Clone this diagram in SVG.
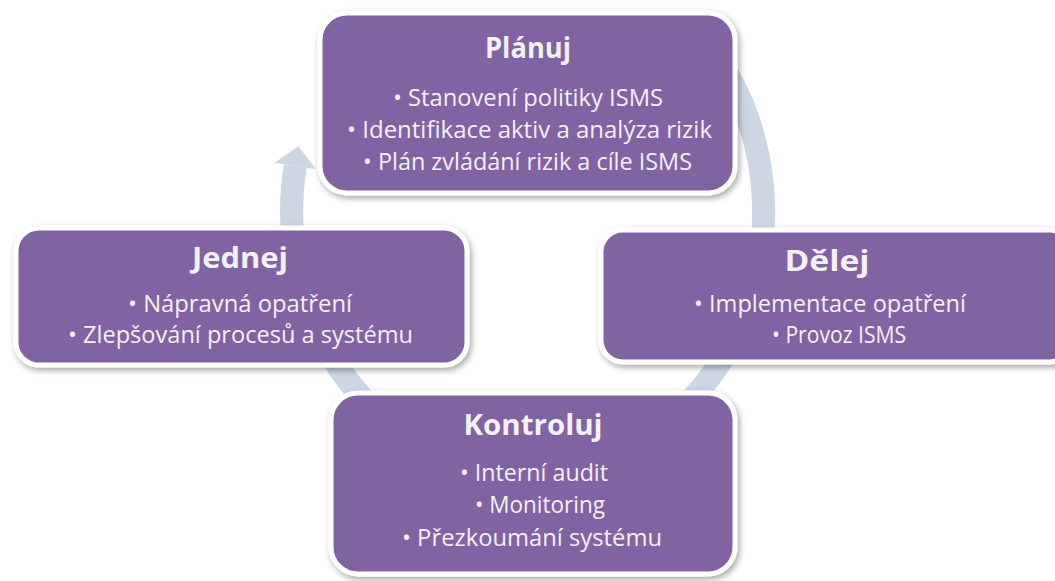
<svg xmlns="http://www.w3.org/2000/svg" width="1055" height="581" viewBox="0 0 1055 581">
  <style>
    .box { fill: #8064a2; stroke: #ffffff; stroke-width: 5; filter: url(#sh); }
    .t { font-family: "Open Sans", "Liberation Sans", sans-serif; fill: #f3f1f6; text-anchor: middle; }
    .title { font-size: 28px; font-weight: bold; }
    .item { font-size: 23px; }
    .ring { fill: none; stroke: #cdd6e5; stroke-width: 23; }
  </style>
  <defs>
    <filter id="sh" x="-10%" y="-10%" width="125%" height="130%">
      <feDropShadow dx="2" dy="3" stdDeviation="3" flood-color="#000000" flood-opacity="0.35"/>
    </filter>
  </defs>
  <rect width="1055" height="581" fill="#ffffff"/>
  <g id="connectors">
    <path class="ring" d="M 728.2 75 A 236 260 0 1 1 295.3 166"/>
    <polygon points="274.5,162.8 298.4,146.2 316.1,169.2" fill="#cdd6e5"/>
  </g>
  <g id="planuj">
    <rect class="box" x="320" y="13" width="415" height="180" rx="27"/>
    <text class="t title" x="528" y="58" textLength="86" lengthAdjust="spacingAndGlyphs">Plánuj</text>
    <text class="t item" x="528" y="106" textLength="270" lengthAdjust="spacingAndGlyphs">• Stanovení politiky ISMS</text>
    <text class="t item" x="529.5" y="138" textLength="365" lengthAdjust="spacingAndGlyphs">• Identifikace aktiv a analýza rizik</text>
    <text class="t item" x="527.5" y="170" textLength="329" lengthAdjust="spacingAndGlyphs">• Plán zvládání rizik a cíle ISMS</text>
  </g>
  <g id="jednej">
    <rect class="box" x="16" y="228" width="451" height="137" rx="23"/>
    <text class="t title" x="240" y="268" textLength="96" lengthAdjust="spacingAndGlyphs">Jednej</text>
    <text class="t item" x="240" y="312" textLength="224" lengthAdjust="spacingAndGlyphs">• Nápravná opatření</text>
    <text class="t item" x="240.5" y="343" textLength="345" lengthAdjust="spacingAndGlyphs">• Zlepšování procesů a systému</text>
  </g>
  <g id="delej">
    <rect class="box" x="601" y="230" width="470" height="132" rx="22"/>
    <text class="t title" x="827" y="271" textLength="85" lengthAdjust="spacingAndGlyphs">Dělej</text>
    <text class="t item" x="830" y="312" textLength="272" lengthAdjust="spacingAndGlyphs">• Implementace opatření</text>
    <text class="t item" x="839" y="343" textLength="134" lengthAdjust="spacingAndGlyphs">• Provoz ISMS</text>
  </g>
  <g id="kontroluj">
    <rect class="box" x="331" y="393" width="404" height="181" rx="27"/>
    <text class="t title" x="533" y="435" textLength="139" lengthAdjust="spacingAndGlyphs">Kontroluj</text>
    <text class="t item" x="534" y="481" textLength="148" lengthAdjust="spacingAndGlyphs">• Interní audit</text>
    <text class="t item" x="540" y="513" textLength="130" lengthAdjust="spacingAndGlyphs">• Monitoring</text>
    <text class="t item" x="532" y="546" textLength="260" lengthAdjust="spacingAndGlyphs">• Přezkoumání systému</text>
  </g>
</svg>
